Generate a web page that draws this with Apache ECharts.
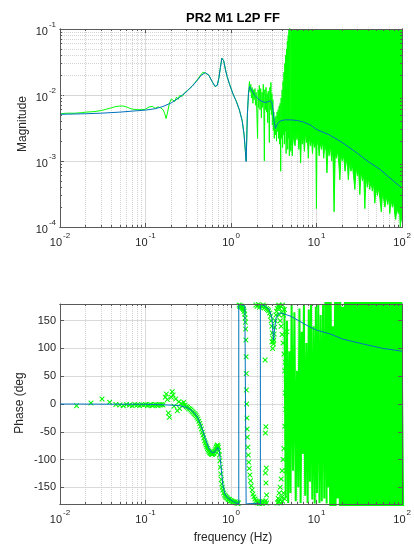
<!DOCTYPE html>
<html><head><meta charset="utf-8">
<script src="https://cdn.jsdelivr.net/npm/echarts@6/dist/echarts.min.js"></script>
<style>html,body{margin:0;padding:0;background:#fff}#c{width:414px;height:546px}</style>
</head><body><div id="c"></div>
<script>
// ---------- axis ticks ----------
const freqMajor = [0.01, 0.1, 1, 10, 100];
const freqMinor = [0.02,0.03,0.04,0.05,0.06,0.07,0.08,0.09,0.2,0.3,0.4,0.5,0.6,0.7,0.8,0.9,2,3,4,5,6,7,8,9,20,30,40,50,60,70,80,90];
const magMajor = [0.0001, 0.001, 0.01, 0.1];
const magMinor = [0.0002,0.0003,0.0004,0.0005,0.0006,0.0007,0.0008,0.0009,0.002,0.003,0.004,0.005,0.006,0.007,0.008,0.009,0.02,0.03,0.04,0.05,0.06,0.07,0.08,0.09];
const phaseMajor = [-150, -100, -50, 0, 50, 100, 150];

// ---------- model (blue) magnitude ----------
const magModelF = [0.01,0.02,0.03,0.05,0.07,0.1,0.13,0.16,0.2,0.25,0.3,0.35,0.4,0.45,0.5,0.55,0.6,0.65,0.69,0.72,0.75,0.78,0.8,0.82,0.86,0.9,0.96,1.05,1.15,1.25,1.35,1.42,1.47,1.5,1.55,1.6,1.65,1.7,1.8,1.9,2.1,2.3,2.5,2.7,2.9,3.0,3.1,3.2,3.3,3.45,3.7,4.2,5,6,7,8.5,10,14,20,30,40,55,70,85,100];
const magModel = [0.0051,0.0052,0.0053,0.0055,0.0057,0.0059,0.0062,0.0067,0.0076,0.0092,0.0112,0.0135,0.0165,0.0200,0.0218,0.0200,0.0160,0.0135,0.0140,0.0180,0.0260,0.0360,0.0375,0.0330,0.0240,0.0190,0.0145,0.0105,0.0080,0.0060,0.0040,0.0025,0.0014,0.00098,0.0050,0.0110,0.0135,0.0125,0.0110,0.0098,0.0086,0.0080,0.0077,0.0079,0.0082,0.0076,0.0058,0.0038,0.0031,0.0036,0.0040,0.0042,0.0042,0.0041,0.0039,0.0035,0.0030,0.0025,0.0019,0.00131,0.00098,0.00075,0.00057,0.00046,0.00039];

// ---------- measured (green) magnitude, up to ~5 Hz ----------
const magMeasured = [[0.01,0.0052],[0.012,0.0053],[0.015,0.0053],[0.018,0.0054],[0.02,0.0055],[0.025,0.0056],[0.03,0.0058],[0.035,0.0061],[0.04,0.0064],[0.045,0.0067],[0.05,0.0068],[0.055,0.0068],[0.06,0.0066],[0.065,0.0063],[0.07,0.0061],[0.08,0.0060],[0.09,0.0060],[0.1,0.0061],[0.11,0.0066],[0.12,0.0067],[0.13,0.0063],[0.14,0.0066],[0.15,0.0064],[0.16,0.0060],[0.167,0.0053],[0.174,0.0044],[0.18,0.0053],[0.19,0.0075],[0.2,0.0087],[0.21,0.0091],[0.22,0.0080],[0.23,0.0093],[0.24,0.0086],[0.25,0.0098],[0.27,0.0096],[0.29,0.0110],[0.31,0.0117],[0.33,0.0128],[0.36,0.0142],[0.4,0.0168],[0.44,0.0200],[0.47,0.0222],[0.5,0.0216],[0.55,0.0198],[0.6,0.0160],[0.65,0.0134],[0.69,0.0141],[0.72,0.0182],[0.75,0.0262],[0.78,0.0362],[0.8,0.0372],[0.82,0.0328],[0.86,0.0242],[0.9,0.0188],[0.96,0.0146],[1.05,0.0104],[1.15,0.0081],[1.25,0.0059],[1.35,0.0041],[1.42,0.0025],[1.47,0.0014],[1.5,0.001],[1.55,0.005],[1.6,0.011],[1.64,0.016],
[1.67,0.011],[1.7,0.0145],[1.73,0.009],[1.76,0.013],[1.8,0.0075],[1.83,0.012],[1.86,0.0085],[1.9,0.0125],[1.93,0.007],[1.96,0.011],[2.0,0.0055],[2.04,0.0022],[2.07,0.012],[2.1,0.0065],[2.14,0.014],[2.18,0.006],[2.22,0.0125],[2.26,0.0045],[2.3,0.011],[2.34,0.0065],[2.38,0.0145],[2.42,0.005],[2.45,0.001],[2.48,0.012],[2.52,0.006],[2.56,0.013],[2.6,0.0055],[2.64,0.0105],[2.68,0.0038],[2.72,0.0115],[2.76,0.0065],[2.8,0.0019],[2.84,0.013],[2.88,0.006],[2.92,0.0155],[2.96,0.005],[3.0,0.0105],[3.04,0.0035],[3.08,0.0085],[3.12,0.0029],[3.16,0.0055],[3.2,0.0022],[3.25,0.0045],[3.3,0.0025],[3.35,0.0048],[3.4,0.002],[3.45,0.0055],[3.5,0.0028],[3.55,0.006],[3.6,0.0022],[3.65,0.0068],[3.7,0.0018],[3.75,0.0075],[3.8,0.0007],[3.85,0.009],[3.9,0.0022],[3.95,0.012],[4.0,0.0016],[4.05,0.016],[4.1,0.0025],[4.15,0.022],[4.2,0.0018],[4.25,0.03],[4.3,0.0028],[4.35,0.04],[4.4,0.0013],[4.45,0.05],[4.5,0.0019],[4.55,0.065],[4.6,0.0015],[4.65,0.08],[4.7,0.0022],[4.75,0.1],[4.8,0.0012],[4.85,0.12],[4.9,0.0025]];

// ---------- measured magnitude above ~5 Hz: lower envelope of the noise (tops reach past 1e-1) ----------
const magNoiseLow = [[4.9,0.0025],[5.0,0.0014],[5.1,0.0024],[5.2,0.0012],[5.3,0.0028],[5.45,0.0019],[5.6,0.0017],[5.75,0.0026],[5.9,0.0021],[6.05,0.0028],[6.2,0.0015],[6.35,0.0024],[6.5,0.00093],[6.65,0.0026],[6.8,0.0018],[7.0,0.0025],[7.2,0.0014],[7.4,0.0027],[7.6,0.0019],[7.8,0.0023],[8.0,0.0011],[8.2,0.0024],[8.45,0.0017],[8.7,0.0022],[8.95,0.0013],[9.2,0.0021],[9.5,0.0016],[9.8,0.0019],[9.95,0.00019],[10.1,0.0017],[10.4,0.0021],[10.7,0.0012],[11.0,0.0019],[11.4,0.0015],[11.8,0.0020],[12.1,0.0011],[12.5,0.0018],[12.9,0.0014],[13.2,0.00066],[13.6,0.0016],[14.0,0.0012],[14.5,0.0017],[15.0,0.0010],[15.5,0.0015],[16.0,0.00017],[16.5,0.0013],[17.0,0.0011],[17.6,0.0014],[18.2,0.0009],[18.7,0.00052],[19.3,0.0012],[20.0,0.0010],[20.7,0.0012],[21.5,0.0007],[22.3,0.0011],[23.0,0.0008],[23.5,0.00052],[24.3,0.0010],[25.2,0.0007],[26.1,0.0009],[27.0,0.0006],[28.0,0.00037],[29.0,0.0008],[30.0,0.0006],[31.0,0.0007],[32.0,0.00031],[33.2,0.0007],[34.4,0.0005],[35.6,0.0006],[36.6,0.00019],[37.8,0.0006],[39.2,0.0004],[40.6,0.00055],[41.8,0.00037],[43.2,0.0005],[44.8,0.00035],[46.4,0.00045],[47.9,0.00023],[49.6,0.0004],[51.4,0.0003],[53.2,0.0004],[55.1,0.00026],[57.0,0.00017],[59.0,0.00033],[61.0,0.00026],[63.0,0.0002],[65.3,0.0003],[67.6,0.00022],[70.0,0.00028],[71.7,0.00016],[74.2,0.00026],[76.8,0.0002],[79.5,0.00024],[82.3,0.00015],[84.0,0.00013],[87.0,0.0002],[90.0,0.00016],[93.0,0.00019],[95.0,0.0001],[97.5,0.00014],[100,0.00012]];

// ---------- model (blue) phase ----------
const phaseModel = [[0.01,0],[0.1,-0.5],[0.2,-2],[0.25,-3],[0.3,-6],[0.35,-12],[0.4,-22],[0.45,-40],[0.5,-62],[0.55,-80],[0.6,-88],[0.65,-86],[0.7,-78],[0.73,-85],[0.76,-110],[0.8,-145],[0.85,-162],[0.9,-168],[1.0,-173],[1.1,-177],[1.23,-180],[1.23,180],[1.35,178],[1.45,176],[1.5,175],[1.5,-180],[1.7,-179],[2.0,-179],[2.2,-180],[2.2,180],[2.5,176],[2.8,170],[3.0,155],[3.1,125],[3.14,115],[3.2,130],[3.35,155],[3.6,163],[3.8,164],[5,158],[6,151],[8,140],[10,133],[14.5,126],[20,117],[35,108],[60,100],[100,95]];

// ---------- measured phase: individual markers ----------
const phaseMarkers = [[0.0156,-3],[0.023,2],[0.031,9],[0.038,3],[0.045,-1],[0.05,-2],[0.055,-3],[0.06,-1],[0.065,-2],[0.07,-3],[0.075,-1],[0.08,-2],[0.085,-3],[0.09,-1],[0.095,-2],[0.1,-1],[0.105,-3],[0.11,-2],[0.115,-1],[0.12,-3],[0.125,-2],[0.13,-1],[0.135,-2],[0.14,-3],[0.145,-1],[0.15,-2],[0.155,-1],[0.16,-2],
[0.17,12],[0.175,18],[0.18,8],[0.185,-16],[0.19,-24],[0.2,12],[0.205,22],[0.21,16],[0.215,-4],[0.225,9],[0.235,-12],[0.245,4],[0.25,-8],[0.26,1],[0.27,-3],[0.28,3],[0.29,-2],[0.3,-5],[0.31,-6],[0.32,-8],[0.33,-9],[0.34,-11],[0.35,-13],[0.36,-15],[0.37,-17],[0.38,-19],[0.39,-21],[0.4,-24],[0.41,-27],[0.42,-31],[0.43,-35],[0.44,-40],[0.45,-45],[0.46,-51],[0.47,-56],[0.48,-61],[0.49,-66],[0.5,-70],[0.51,-74],[0.52,-77],[0.53,-80],[0.54,-83],[0.55,-85],[0.56,-87],[0.57,-88],[0.58,-89],[0.59,-90],[0.6,-91],[0.61,-90],[0.62,-89],[0.63,-88],[0.64,-86],[0.65,-84],[0.66,-81],[0.67,-78],[0.68,-76],[0.69,-74],[0.7,-75],[0.71,-78],[0.72,-84],[0.73,-92],[0.74,-102],[0.75,-114],[0.76,-126],[0.77,-136],[0.78,-144],[0.79,-150],[0.8,-155],[0.82,-160],[0.84,-164],[0.86,-166],[0.88,-168],[0.9,-169],[0.92,-171],[0.94,-172],[0.96,-172],[0.98,-174],[1.0,-174],[1.03,-175],[1.06,-176],[1.09,-177],[1.12,-176],[1.15,-178],[1.18,-177],[1.2,-179],[1.22,-178],
[1.24,178],[1.26,176],[1.28,177],[1.3,175],[1.32,176],[1.34,174],[1.36,173],[1.38,172],[1.4,170],[1.42,167],[1.44,162],[1.46,155],[1.47,147],[1.48,135],[1.49,115],[1.5,85],[1.505,55],[1.51,25],[1.52,0],[1.53,-25],[1.54,-45],[1.55,-60],[1.57,-78],[1.59,-92],[1.61,-105],[1.63,-116],[1.66,-128],[1.69,-138],[1.72,-147],[1.76,-155],[1.8,-162],[1.85,-167],[1.9,-171],[1.95,-174],[2.0,-176],[2.05,-178],[2.1,-177],[2.15,-179],[2.2,-178],[2.25,-176],[2.3,-179],[2.35,-175],[2.45,-177],[2.55,-174],[2.6,-178],
[1.95,178],[2.02,176],[2.08,179],[2.15,174],[2.22,177],[2.3,175],[2.38,178],[2.45,173],[2.52,176],[2.6,172],[2.68,170],[2.75,168],[2.82,164],[2.88,158],[2.94,150],[2.99,140],[3.03,128],[3.07,118],[3.1,112],[3.13,108],[3.16,115],[3.19,126],[3.23,138],[3.28,150],[3.34,160],[3.4,167],[3.47,172],[3.55,176],
[2.5,79],[2.55,-41],[2.52,-52],[2.58,-115],[2.52,-124],[2.56,-142],[2.6,-164],[3.06,100],[3.0,112],
[3.6,178],[3.65,160],[3.7,172],[3.75,150],[3.8,176],[3.85,140],[3.9,165],[3.95,125],[4.0,178],[4.05,110],[4.1,160],[4.15,90],[4.2,170],[4.25,60],
[3.5,-178],[3.55,-170],[3.6,-176],[3.65,-160],[3.7,-172],[3.75,-150],[3.8,-178],[3.85,-135],[3.9,-168],[3.95,-120],[4.0,-175],[4.05,-100],[4.1,-160],[4.15,-80],[4.2,-170],[4.25,-40],[4.3,20],[4.35,-10],[4.4,45],[4.45,-60],[4.5,10],[4.3,75],[4.4,-120],[4.5,130]];

// ---------- measured phase: noise above ~4 Hz (scattered over the whole range) ----------
const phaseNoiseSparse = [[4.2,175],[4.35,-170],[4.5,150],[4.65,-178],[4.8,95],[4.95,-160],[5.1,178],[5.3,-120],[5.5,165],[5.7,-175],[5.9,60],[6.1,-150],[6.3,172],[6.5,-178],[6.7,130],[6.9,-90],[7.1,179],[7.35,-165],[7.6,110],[7.85,-178],[8.1,170],[8.35,-140],[8.6,178],[8.9,-172],[9.2,140],[9.5,-179],[9.8,175],[10.1,-160],[10.45,179],[10.8,-178],[11.15,160],[11.5,-175],[11.9,178],[12.3,-170],[12.7,179],[13.1,-179]];
const phaseNoiseDense = [[13,186],[13.6,-150],[14.2,186],[14.8,-186],[15.5,140],[16.2,-186],[16.9,186],[17.6,-170],[18.4,186],[19.2,-186],[20,175],[21,-186],[22,186],[23,-186],[24,186],[25,-186],[26,186],[27,-186],[28,186],[29,-186],[30,186],[31.5,-186],[33,186],[34.5,-186],[36,186],[37.5,-186],[39,186],[41,-186],[43,186],[45,-186],[47,186],[49,-186],[51,186],[53.5,-186],[56,186],[58.5,-186],[61,186],[64,-186],[67,186],[70,-186],[73,186],[76,-186],[79.5,186],[83,-186],[87,186],[91,-186],[95,186],[100,-186]];

// ---------- styling ----------
const GREEN = '#00ff00', BLUE = '#0072bd', AX = '#5a5a5a', TXT = '#262626';
const FONT = '"Liberation Sans", Arial, Helvetica, sans-serif';
const GRIDC = '#dadada', MINORC = '#d3d3d3';
const XMARK = 'path://M0,0L1.5,0L5,3.5L8.5,0L10,0L10,1.5L6.5,5L10,8.5L10,10L8.5,10L5,6.5L1.5,10L0,10L0,8.5L3.5,5L0,1.5Z';

function sup(v){ const e = Math.round(Math.log10(v)); return '{b|10}{s|' + e + '}'; }
const rich = {
  b: {fontSize: 11, color: TXT, fontFamily: FONT, lineHeight: 16, verticalAlign: 'bottom'},
  s: {fontSize: 8, color: TXT, fontFamily: FONT, lineHeight: 16, verticalAlign: 'top', padding:[0,0,0,1]}
};

// main axes (labels + grid lines) sit under the data; "minor" axes (frame + minor ticks) sit above it
function logX(grid, pos, showLabel, minor){
  return {
    type: 'log', logBase: 10, min: 0.01, max: 100, gridIndex: grid, position: pos,
    axisLine: {show: true, onZero: false, lineStyle: {color: AX, width: 1}},
    axisTick: {show: true, inside: true, length: minor ? 2 : 4, lineStyle: {color: AX}, customValues: minor ? freqMinor : freqMajor},
    axisLabel: {show: showLabel, customValues: freqMajor, formatter: sup, rich: rich, margin: 5},
    splitLine: {show: !minor && pos === 'bottom', lineStyle: {color: GRIDC, width: 1}},
    minorTick: {show: false}, minorSplitLine: {show: false}, z: minor ? 6 : 0
  };
}
function logY(grid, pos, showLabel, minor){
  return {
    type: 'log', logBase: 10, min: 0.0001, max: 0.1, gridIndex: grid, position: pos,
    axisLine: {show: true, onZero: false, lineStyle: {color: AX, width: 1}},
    axisTick: {show: true, inside: true, length: minor ? 2 : 4, lineStyle: {color: AX}, customValues: minor ? magMinor : magMajor},
    axisLabel: {show: showLabel, customValues: magMajor, formatter: sup, rich: rich, margin: 4},
    splitLine: {show: !minor && pos === 'left', lineStyle: {color: GRIDC, width: 1}}, z: minor ? 6 : 0
  };
}
function phaseY(grid, pos, showLabel, top){
  return {
    type: 'value', min: -180, max: 180, gridIndex: grid, position: pos,
    axisLine: {show: true, onZero: false, lineStyle: {color: AX, width: 1}},
    axisTick: {show: true, inside: true, length: 4, lineStyle: {color: AX}, customValues: phaseMajor},
    axisLabel: {show: showLabel, customValues: phaseMajor, color: TXT, fontSize: 11, fontFamily: FONT, margin: 4},
    splitLine: {show: !top && pos === 'left', lineStyle: {color: GRIDC, width: 1}}, z: top ? 6 : 0
  };
}

const gridLinesMark = (xs, ys) => ({
  silent: true, z: 1, symbol: ['none', 'none'], label: {show: false}, emphasis: {disabled: true}, animation: false,
  lineStyle: {type: 'dotted', color: MINORC, width: 1},
  data: [...xs.map(v => ({xAxis: v})), ...ys.map(v => ({yAxis: v}))]
});

const chart = echarts.init(document.getElementById('c'), null, {renderer: 'canvas'});
chart.setOption({
  animation: false,
  backgroundColor: '#ffffff',
  textStyle: {fontFamily: FONT},
  grid: [
    {left: 60, right: 8, top: 29, height: 198},
    {left: 60, right: 8, top: 304, height: 200}
  ],
  xAxis: [
    logX(0, 'bottom', true, false), logX(0, 'bottom', false, true),
    logX(0, 'top', false, false), logX(0, 'top', false, true),
    logX(1, 'bottom', true, false), logX(1, 'bottom', false, true),
    logX(1, 'top', false, false), logX(1, 'top', false, true)
  ],
  yAxis: [
    logY(0, 'left', true, false), logY(0, 'left', false, true),
    logY(0, 'right', false, false), logY(0, 'right', false, true),
    phaseY(1, 'left', true, false), phaseY(1, 'right', false, true)
  ],
  graphic: [
    {type: 'text', x: 233, y: 18, style: {text: 'PR2 M1 L2P FF', font: 'bold 13px ' + FONT, fill: '#000', textAlign: 'center', textVerticalAlign: 'middle'}},
    {type: 'text', x: 23, y: 124, rotation: Math.PI / 2, style: {text: 'Magnitude', font: '12px ' + FONT, fill: TXT, textAlign: 'center', textVerticalAlign: 'middle'}},
    {type: 'text', x: 20, y: 403, rotation: Math.PI / 2, style: {text: 'Phase (deg', font: '12px ' + FONT, fill: TXT, textAlign: 'center', textVerticalAlign: 'middle'}},
    {type: 'text', x: 233, y: 538, style: {text: 'frequency (Hz)', font: '12px ' + FONT, fill: TXT, textAlign: 'center', textVerticalAlign: 'middle'}}
  ],
  series: [
    {type: 'line', xAxisIndex: 0, yAxisIndex: 0, data: [], z: 1, silent: true, markLine: gridLinesMark(freqMinor, magMinor)},
    {type: 'line', xAxisIndex: 4, yAxisIndex: 4, data: [], z: 1, silent: true, markLine: gridLinesMark(freqMinor, [])},
    {name: 'meas', type: 'line', xAxisIndex: 0, yAxisIndex: 0, data: magMeasured, showSymbol: false, symbol: 'none',
      lineStyle: {color: GREEN, width: 1}, z: 3, clip: true},
    {name: 'measNoise', type: 'line', xAxisIndex: 0, yAxisIndex: 0, data: magNoiseLow, showSymbol: false, symbol: 'none',
      lineStyle: {color: GREEN, width: 1}, areaStyle: {color: GREEN, opacity: 1, origin: magMajor[magMajor.length - 1]}, z: 3, clip: true},
    {name: 'model', type: 'line', xAxisIndex: 0, yAxisIndex: 0, data: magModelF.map((f, i) => [f, magModel[i]]), showSymbol: false, symbol: 'none',
      lineStyle: {color: BLUE, width: 1}, z: 4, clip: true},
    {type: 'line', xAxisIndex: 4, yAxisIndex: 4, data: phaseNoiseSparse, showSymbol: false, symbol: 'none',
      lineStyle: {color: GREEN, width: 2}, z: 3, clip: true},
    {type: 'line', xAxisIndex: 4, yAxisIndex: 4, data: phaseNoiseDense, showSymbol: false, symbol: 'none',
      lineStyle: {color: GREEN, width: 4, join: 'bevel'}, z: 3, clip: true},
    {type: 'scatter', xAxisIndex: 4, yAxisIndex: 4, data: phaseMarkers, symbol: XMARK, symbolSize: 5,
      itemStyle: {color: GREEN, opacity: 1}, z: 3, clip: true},
    {type: 'line', xAxisIndex: 4, yAxisIndex: 4, data: phaseModel, showSymbol: false, symbol: 'none',
      lineStyle: {color: BLUE, width: 1}, z: 4, clip: true}
  ]
});
</script></body></html>
